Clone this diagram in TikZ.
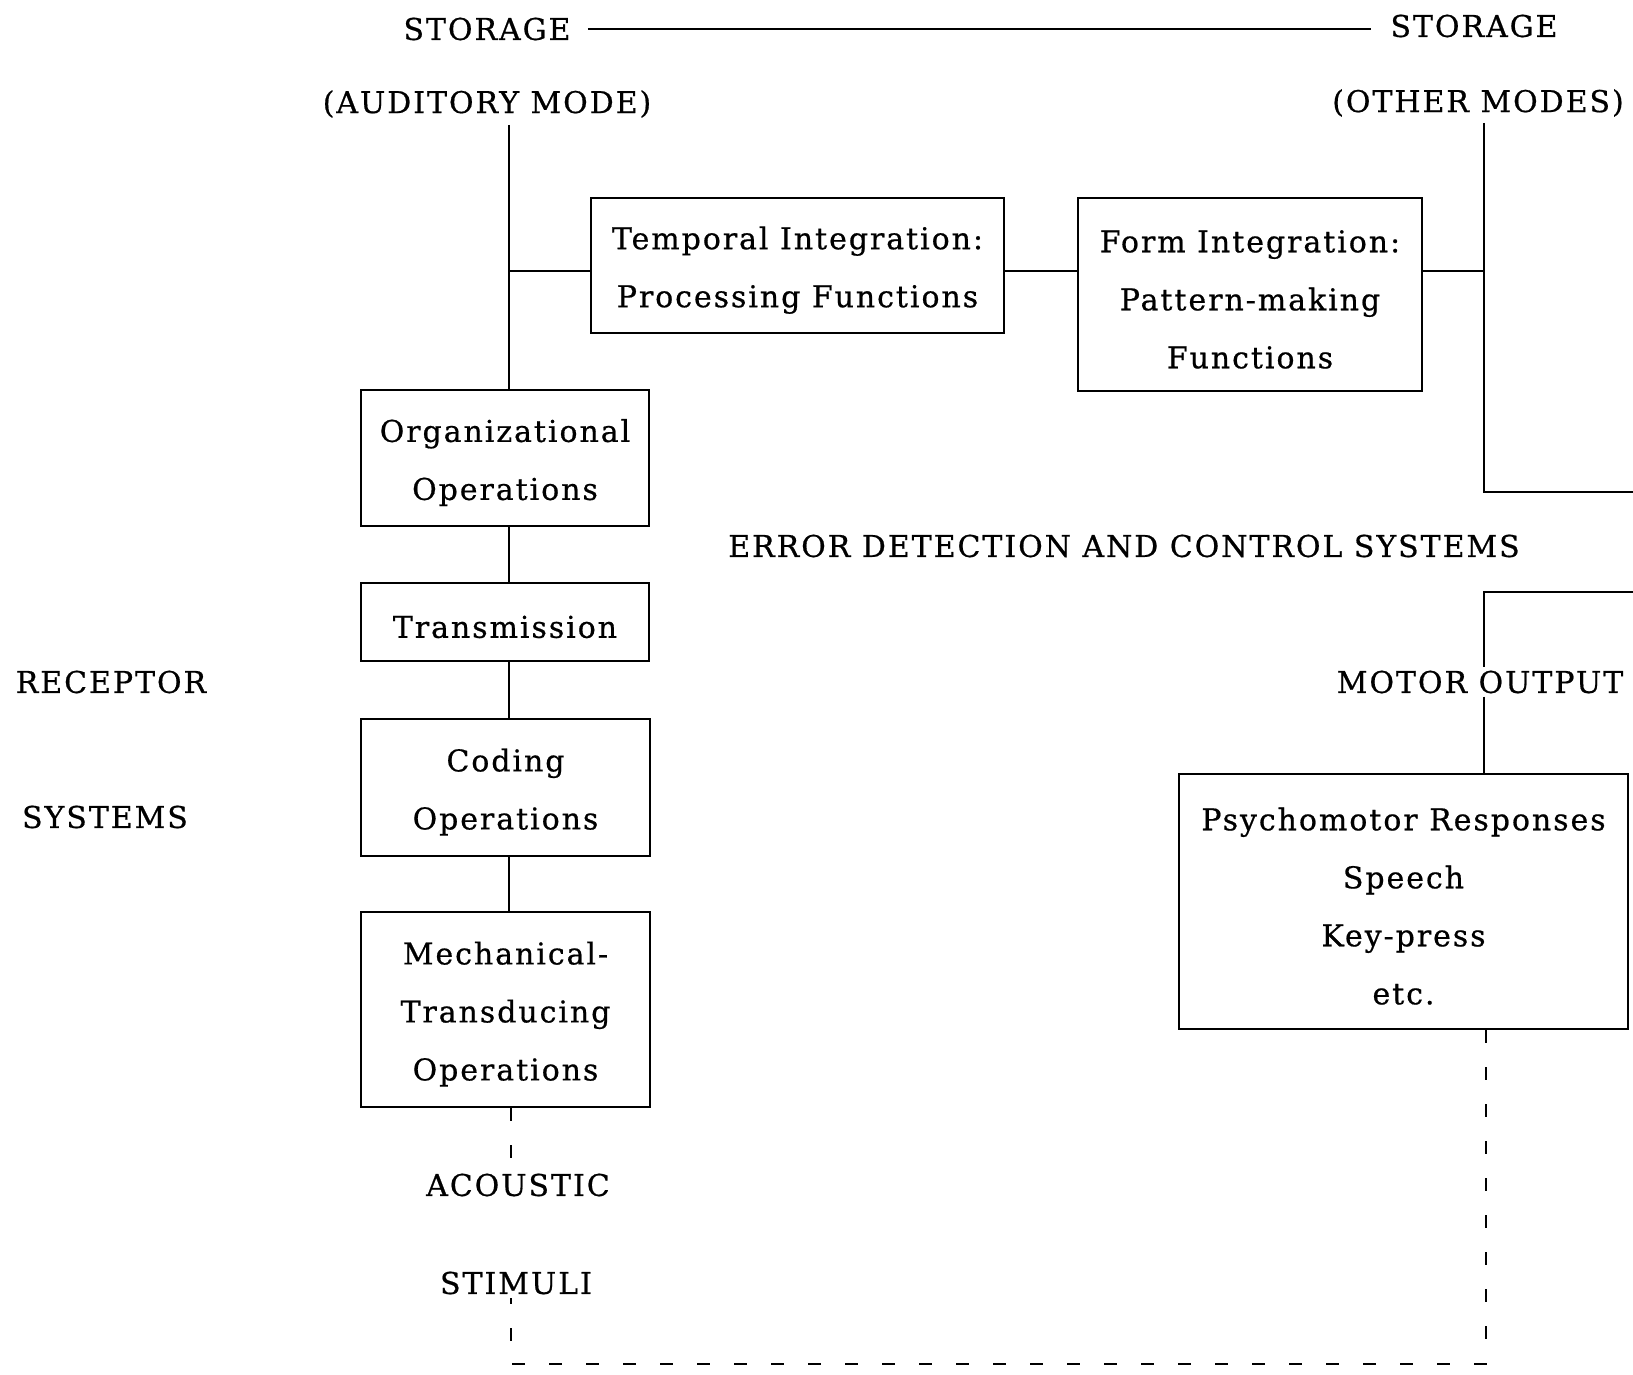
\documentclass[tikz,border=0pt]{standalone}
\usepackage{fontspec}
\setmainfont{DejaVu Serif}[LetterSpace=6.5, FakeBold=0.6]
\newcommand\myfirststrut{\rule{0pt}{16pt}}
\begin{document}
\begin{tikzpicture}[x=0.5pt,y=-0.5pt, line width=1.35pt,
  every node/.style={font=\fontsize{15}{29}\selectfont},
  box/.style={draw, align=center, inner sep=0pt},
  lbl/.style={inner sep=1pt},
  dsh/.style={dash pattern=on 6.5pt off 12pt}]
\useasboundingbox (0,0) rectangle (1633,1375);

% text labels
\node[lbl] (storL) at (487,29) {STORAGE};
\node[lbl] (storR) at (1474,26) {STORAGE};
\node[lbl] (aud) at (487,104) {(AUDITORY MODE)};
\node[lbl] (oth) at (1478,103) {(OTHER MODES)};
\node[lbl] (err) at (1124,546) {ERROR DETECTION AND CONTROL SYSTEMS};
\node[lbl] (motor) at (1480,682) {MOTOR OUTPUT};
\node[lbl] (rec) at (111,682) {RECEPTOR};
\node[lbl] (sys) at (105,817) {SYSTEMS};
\node[lbl] (acou) at (518,1185) {ACOUSTIC};
\node[lbl] (stim) at (516,1283) {STIMULI};

% boxes
\node[box, minimum width=206.5pt, minimum height=67.5pt] (temp) at (797.5,265.5) {\myfirststrut Temporal Integration:\\Processing Functions};
\node[box, minimum width=172pt, minimum height=96.5pt] (form) at (1250,294.5) {\myfirststrut Form Integration:\\Pattern-making\\Functions};
\node[box, minimum width=144pt, minimum height=68pt] (org) at (505,458) {\myfirststrut Organizational\\Operations};
\node[box, minimum width=144pt, minimum height=39pt] (trans) at (505,622) {\myfirststrut Transmission};
\node[box, minimum width=144.5pt, minimum height=68.5pt] (cod) at (505.5,787.5) {\myfirststrut Coding\\Operations};
\node[box, minimum width=144.5pt, minimum height=97.5pt] (mech) at (505.5,1009.5) {\myfirststrut Mechanical-\\Transducing\\Operations};
\node[box, minimum width=224.5pt, minimum height=127.5pt] (psy) at (1403.5,901.5) {\myfirststrut Psychomotor Responses\\Speech\\Key-press\\etc.};

% coordinates
\coordinate (audtop) at (509,125);
\coordinate (othtop) at (1484,123);
\coordinate (j1) at (509,271);
\coordinate (j2) at (1484,271);
\coordinate (ecR1) at (1633,492);
\coordinate (ecR2) at (1633,592);
\coordinate (dx) at (511,0);
\coordinate (dcor1) at (1486,1364);
\coordinate (dcor2) at (511,1364);

% connectors
\draw[shorten <=7pt, shorten >=8pt] (storL.east) -- (storL.east -| storR.west);
\draw (audtop) -- (audtop |- org.north);
\draw (j1) -- (j1 -| temp.west);
\draw (temp.east |- j1) -- (form.west |- j1);
\draw (form.east |- j1) -- (j2);
\draw (othtop) -- (othtop |- ecR1) -- (ecR1);
\draw (ecR2) -- (ecR2 -| othtop) -- (othtop |- motor.north);
\draw (othtop |- motor.south) -- (othtop |- psy.north);
\draw (org.south -| audtop) -- (trans.north -| audtop);
\draw (trans.south -| audtop) -- (cod.north -| audtop);
\draw (cod.south -| audtop) -- (mech.north -| audtop);
\draw[dsh] (mech.south -| dx) -- (acou.north -| dx);
\draw[dsh] (psy.south -| dcor1) -- (dcor1) -- (dcor2) -- (stim.south -| dx);
\end{tikzpicture}
\end{document}
